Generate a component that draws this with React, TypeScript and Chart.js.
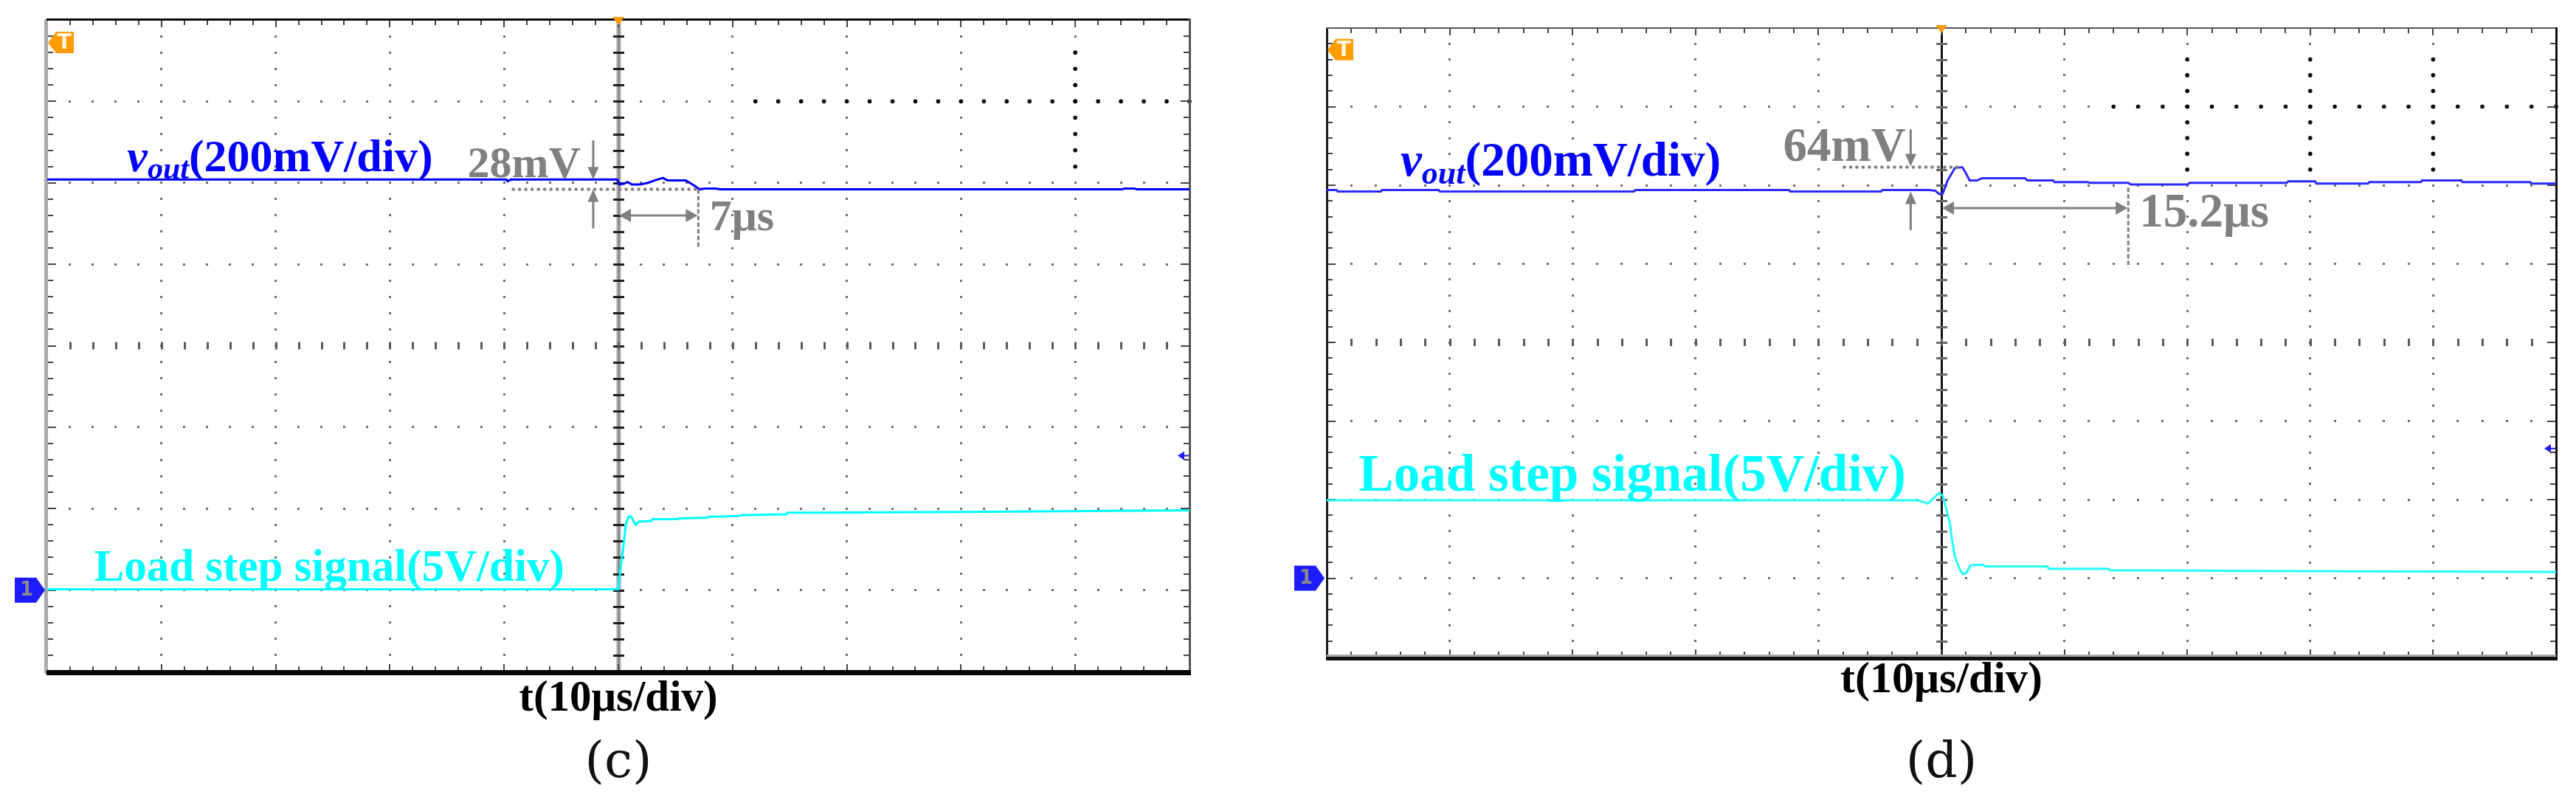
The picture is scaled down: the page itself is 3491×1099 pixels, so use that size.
import React, { useEffect, useRef } from 'react';
import { Chart, registerables } from 'chart.js';

Chart.register(...registerables);

// ---------------- data (time in µs, amplitude in divisions) ----------------
// Panel (c)
const cVoutTime = [-50, -9.8, -9.7, -9.4, -0.1, 0.1, 0.5, 0.8, 1.2, 1.9, 2.6, 3.2, 3.9, 4.3, 5.9, 6.6, 7.1, 7.6, 8.5, 8.9, 44.1, 44.3, 45.2, 45.4, 50];
const cVoutDiv = [2.04, 2.04, 2.02, 2.04, 2.04, 1.98, 1.99, 2.01, 1.98, 1.98, 2.0, 2.03, 2.06, 2.03, 2.03, 1.97, 1.92, 1.93, 1.93, 1.92, 1.92, 1.93, 1.93, 1.92, 1.92];
const cLoadTime = [-50, 0, 0.2, 0.45, 0.65, 0.9, 1.15, 1.5, 1.8, 2.9, 3.0, 5.2, 5.3, 7.8, 7.9, 10.5, 10.8, 14.7, 14.8, 17, 30, 50];
const cLoadDiv = [-2.99, -2.99, -2.73, -2.46, -2.19, -2.1, -2.1, -2.2, -2.16, -2.15, -2.13, -2.13, -2.12, -2.11, -2.1, -2.09, -2.08, -2.07, -2.05, -2.05, -2.04, -2.02];
const cOvershootMv = 28;
const cSettleUs = 7;

// Panel (d)
const dVoutTime = [-50, -49.2, -49.1, -45.6, -45.5, -40.9, -40.8, -25, -24.9, -12.4, -12.3, -4.9, -4.8, -1.0, -0.5, -0.2, 0.1, 0.5, 1.1, 1.7, 2.0, 2.3, 2.9, 3.3, 6.8, 7.0, 9.1, 9.2, 11.9, 12.1, 15.2, 15.4, 20.0, 20.2, 28.1, 28.2, 30.4, 30.5, 34.7, 34.8, 39.0, 39.1, 42.3, 42.4, 47.9, 48.0, 50];
const dVoutDiv = [1.94, 1.94, 1.92, 1.92, 1.94, 1.94, 1.92, 1.92, 1.94, 1.94, 1.92, 1.92, 1.94, 1.94, 1.93, 1.89, 1.89, 2.06, 2.22, 2.23, 2.15, 2.06, 2.06, 2.09, 2.09, 2.06, 2.06, 2.04, 2.04, 2.03, 2.03, 2.01, 2.01, 2.03, 2.03, 2.05, 2.05, 2.02, 2.02, 2.04, 2.04, 2.06, 2.06, 2.04, 2.04, 2.02, 2.02];
const dLoadTime = [-50, -1.9, -1.1, -0.7, -0.2, 0.1, 0.4, 0.7, 0.85, 1.1, 1.3, 1.5, 1.75, 2.05, 2.35, 2.65, 3.4, 3.55, 8.6, 8.75, 13.6, 13.7, 30, 50];
const dLoadDiv = [-2.01, -2.01, -2.05, -1.99, -1.92, -1.95, -2.12, -2.31, -2.5, -2.73, -2.81, -2.89, -2.95, -2.93, -2.84, -2.83, -2.83, -2.85, -2.85, -2.88, -2.88, -2.9, -2.91, -2.92];
const dOvershootMv = 64;
const dSettleUs = 15.2;

// axis divisions
const timeDivTicks = [-50, -40, -30, -20, -10, 0, 10, 20, 30, 40, 50];
const ampDivTicks = [-4, -3, -2, -1, 0, 1, 2, 3, 4];
const xTitleText = 't(10μs/div)';
const voutMain = 'v';
const voutSub = 'out';
const voutScale = '(200mV/div)';
const loadText = 'Load step signal(5V/div)';

const SERIF = '"Liberation Serif", "Times New Roman", serif';
const CAP_FONT = '"DejaVu Serif", "Liberation Serif", serif';
const GRAY = '#808080';

type Panel = {
  key: string;
  caption: string;
  left: number;
  width: number;
  height: number;
  area: { left: number; top: number; right: number; bottom: number };
  xTitleCenter: number;
  xTitleSize: number;
  capCenter: number;
  capSize: number;
  textSize: number;
  voutSize: number;
  loadSize: number;
  voutTime: number[];
  voutDiv: number[];
  loadTime: number[];
  loadDiv: number[];
  voutColor: string;
  loadColor: string;
  overshootMv: number;
  settleUs: number;
  anno: {
    voutLabel: [number, number];
    loadLabel: [number, number];
    mvRight: [number, number];
    arrowT: number;
    downFrom: number; downTo: number;
    upFrom: number; upTo: number;
    hDotY: number; hDotFrom: number; hDotTo: number;
    dblY: number;
    vDotFrom: number; vDotTo: number;
    usLeft: [number, number];
  };
  bold: { cols: number[]; colFrom: number; colTo: number; row: number; rowFrom: number };
  style: 'c' | 'd';
};

const panels: Panel[] = [
  {
    key: 'c', caption: '(c)', left: 0, width: 1700, height: 1099,
    area: { left: 64, top: 27, right: 1612, bottom: 910 },
    xTitleCenter: 948, xTitleSize: 59, capCenter: 1035, capSize: 68,
    textSize: 60, voutSize: 62, loadSize: 61,
    voutTime: cVoutTime, voutDiv: cVoutDiv, loadTime: cLoadTime, loadDiv: cLoadDiv,
    voutColor: '#0000ff', loadColor: '#00ffff',
    overshootMv: cOvershootMv, settleUs: cSettleUs,
    anno: {
      voutLabel: [-43.0, 2.14], loadLabel: [-45.9, -2.89], mvRight: [-3.3, 2.07],
      arrowT: -2.2, downFrom: 2.52, downTo: 2.04, upFrom: 1.44, upTo: 1.92,
      hDotY: 1.92, hDotFrom: -9.2, hDotTo: 7,
      dblY: 1.6, vDotFrom: 1.92, vDotTo: 1.21, usLeft: [8.0, 1.42],
    },
    bold: { cols: [40], colFrom: 2.2, colTo: 3.6, row: 3, rowFrom: 12 },
    style: 'c',
  },
  {
    key: 'd', caption: '(d)', left: 1700, width: 1791, height: 1099,
    area: { left: 98, top: 38, right: 1764, bottom: 890 },
    xTitleCenter: 922, xTitleSize: 60, capCenter: 1035, capSize: 68,
    textSize: 65, voutSize: 65, loadSize: 71,
    voutTime: dVoutTime, voutDiv: dVoutDiv, loadTime: dLoadTime, loadDiv: dLoadDiv,
    voutColor: '#2a2aff', loadColor: '#22ffff',
    overshootMv: dOvershootMv, settleUs: dSettleUs,
    anno: {
      voutLabel: [-44.0, 2.12], loadLabel: [-47.4, -1.89], mvRight: [-2.9, 2.31],
      arrowT: -2.5, downFrom: 2.71, downTo: 2.24, upFrom: 1.43, upTo: 1.92,
      hDotY: 2.23, hDotFrom: -7.9, hDotTo: 1.3,
      dblY: 1.71, vDotFrom: 1.97, vDotTo: 0.95, usLeft: [16.1, 1.47],
    },
    bold: { cols: [20, 30, 40], colFrom: 2.2, colTo: 3.6, row: 3, rowFrom: 14 },
    style: 'd',
  },
];

function arrowHead(ctx: CanvasRenderingContext2D, x: number, y: number, dx: number, dy: number, len: number, half: number) {
  const px = -dy, py = dx;
  ctx.beginPath();
  ctx.moveTo(x, y);
  ctx.lineTo(x - dx * len + px * half, y - dy * len + py * half);
  ctx.lineTo(x - dx * len - px * half, y - dy * len - py * half);
  ctx.closePath();
  ctx.fill();
}

function dottedLine(ctx: CanvasRenderingContext2D, x1: number, y1: number, x2: number, y2: number) {
  ctx.save();
  ctx.strokeStyle = GRAY;
  ctx.lineWidth = 4.5;
  ctx.lineCap = 'round';
  ctx.setLineDash([0.1, 8.4]);
  ctx.beginPath();
  ctx.moveTo(x1, y1);
  ctx.lineTo(x2, y2);
  ctx.stroke();
  ctx.restore();
}

function makeChart(canvas: HTMLCanvasElement, p: Panel) {
  const a = p.area;
  const xPadTop = p.xTitleCenter - a.bottom - p.xTitleSize / 2;
  const capTopEdge = a.bottom + xPadTop + p.xTitleSize;
  const capPadTop = p.capCenter - capTopEdge - p.capSize / 2;
  const layoutBottom = p.height - (p.capCenter + p.capSize / 2);

  const gridPlugin = {
    id: 'scopeGrid' + p.key,
    beforeDatasetsDraw(chart: any) {
      const { ctx, chartArea: ca, scales } = chart;
      const X = (t: number) => scales.x.getPixelForValue(t);
      const Y = (v: number) => scales.y.getPixelForValue(v);
      ctx.save();
      const dot = (x: number, y: number, s: number, c: string) => {
        ctx.fillStyle = c;
        ctx.fillRect(Math.round(x - s / 2), Math.round(y - s / 2), s, s);
      };
      const dotCol = '#6e6e6e';
      // dots at minor ticks along major lines
      for (const t of timeDivTicks) {
        if (t === -50 || t === 50 || t === 0) continue;
        for (let k = -19; k <= 19; k++) dot(X(t), Y(k * 0.2), 3, dotCol);
      }
      for (const v of ampDivTicks) {
        if (v === -4 || v === 4 || v === 0) continue;
        for (let k = -24; k <= 24; k++) dot(X(k * 2), Y(v), 3, dotCol);
      }
      // centre cross
      if (p.style === 'c') {
        ctx.fillStyle = '#c4c4c4';
        ctx.fillRect(X(0) - 3, ca.top, 7, ca.bottom - ca.top);
        ctx.fillStyle = '#8a8a8a';
        ctx.fillRect(X(0) - 1, ca.top, 3, ca.bottom - ca.top);
      } else {
        ctx.fillStyle = '#111';
        ctx.fillRect(X(0) - 1, ca.top, 3, ca.bottom - ca.top);
      }
      for (let k = -19; k <= 19; k++) {
        ctx.fillStyle = p.style === 'c' ? '#1e1e1e' : '#6a6a6a';
        ctx.fillRect(X(0) - 7, Math.round(Y(k * 0.2)) - 1, 15, 3);
      }
      for (let k = -24; k <= 24; k++) {
        ctx.fillStyle = '#5a5a5a';
        ctx.fillRect(Math.round(X(k * 2)) - 1, Y(0) - 5, 3, 10);
      }
      // bold overlay dots
      for (const t of p.bold.cols) {
        for (let v = p.bold.colFrom; v <= p.bold.colTo + 1e-6; v += 0.2) {
          ctx.fillStyle = '#000';
          ctx.beginPath();
          ctx.arc(X(t), Y(v), 2.8, 0, Math.PI * 2);
          ctx.fill();
        }
      }
      for (let t = 50; t >= p.bold.rowFrom - 1e-6; t -= 2) {
        ctx.fillStyle = '#000';
        ctx.beginPath();
        ctx.arc(X(t), Y(p.bold.row), 2.8, 0, Math.PI * 2);
        ctx.fill();
      }
      // border ticks
      ctx.fillStyle = '#444';
      for (let k = -19; k <= 19; k++) {
        const y = Math.round(Y(k * 0.2));
        const len = k % 5 === 0 ? 12 : 8;
        ctx.fillRect(ca.left, y - 1, len, 2);
        ctx.fillRect(ca.right - len, y - 1, len, 2);
      }
      for (let k = -24; k <= 24; k++) {
        const x = Math.round(X(k * 2));
        const len = k % 5 === 0 ? 10 : 7;
        ctx.fillRect(x - 1, ca.top, 2, len);
        ctx.fillRect(x - 1, ca.bottom - len, 2, len);
      }
      // frame
      if (p.style === 'c') {
        ctx.fillStyle = '#aaaaaa';
        ctx.fillRect(ca.left - 4, ca.top - 1, 5, ca.bottom - ca.top + 4);
        ctx.fillStyle = '#0a0a0a';
        ctx.fillRect(ca.left - 1, ca.top - 2, ca.right - ca.left + 2, 3);
        ctx.fillStyle = '#555';
        ctx.fillRect(ca.right - 1, ca.top - 2, 3, ca.bottom - ca.top + 4);
        ctx.fillStyle = '#050505';
        ctx.fillRect(ca.left - 1, ca.bottom - 2, ca.right - ca.left + 3, 7);
      } else {
        ctx.fillStyle = '#1a1a1a';
        ctx.fillRect(ca.left - 1, ca.top - 1, 3, ca.bottom - ca.top + 3);
        ctx.fillStyle = '#555';
        ctx.fillRect(ca.left - 1, ca.top - 1, ca.right - ca.left + 2, 2);
        ctx.fillStyle = '#111';
        ctx.fillRect(ca.right - 1, ca.top - 1, 3, ca.bottom - ca.top + 6);
        ctx.fillStyle = '#a8a8a8';
        ctx.fillRect(ca.left, ca.bottom - 3, ca.right - ca.left, 3);
        ctx.fillStyle = '#111';
        ctx.fillRect(ca.left - 1, ca.bottom, ca.right - ca.left + 3, 5);
      }
      ctx.restore();
    },
  };

  const annoPlugin = {
    id: 'scopeAnno' + p.key,
    afterDatasetsDraw(chart: any) {
      const { ctx, chartArea: ca, scales } = chart;
      const X = (t: number) => scales.x.getPixelForValue(t);
      const Y = (v: number) => scales.y.getPixelForValue(v);
      const an = p.anno;
      const fs = p.textSize;
      const vs = p.voutSize;
      ctx.save();
      ctx.textBaseline = 'alphabetic';

      // v_out label
      let x = X(an.voutLabel[0]);
      const yb = Y(an.voutLabel[1]);
      ctx.fillStyle = '#0000ff';
      ctx.font = `italic bold ${vs}px ${SERIF}`;
      ctx.textAlign = 'left';
      ctx.fillText(voutMain, x, yb);
      x += ctx.measureText(voutMain).width;
      ctx.font = `italic bold ${Math.round(vs * 0.68)}px ${SERIF}`;
      ctx.fillText(voutSub, x, yb + vs * 0.16);
      x += ctx.measureText(voutSub).width;
      ctx.font = `bold ${vs}px ${SERIF}`;
      ctx.fillText(voutScale, x, yb);

      // load label
      ctx.fillStyle = '#00ffff';
      ctx.font = `bold ${p.loadSize}px ${SERIF}`;
      ctx.fillText(loadText, X(an.loadLabel[0]), Y(an.loadLabel[1]));

      // overshoot annotation
      ctx.fillStyle = GRAY;
      ctx.strokeStyle = GRAY;
      ctx.font = `bold ${fs}px ${SERIF}`;
      ctx.textAlign = 'right';
      ctx.fillText(`${p.overshootMv}mV`, X(an.mvRight[0]), Y(an.mvRight[1]));
      const ax = X(an.arrowT);
      ctx.lineWidth = 3;
      ctx.beginPath();
      ctx.moveTo(ax, Y(an.downFrom));
      ctx.lineTo(ax, Y(an.downTo) - 14);
      ctx.moveTo(ax, Y(an.upFrom));
      ctx.lineTo(ax, Y(an.upTo) + 14);
      ctx.stroke();
      arrowHead(ctx, ax, Y(an.downTo), 0, 1, 17, 7.5);
      arrowHead(ctx, ax, Y(an.upTo), 0, -1, 17, 7.5);
      dottedLine(ctx, X(an.hDotFrom), Y(an.hDotY), X(an.hDotTo), Y(an.hDotY));

      // settling time
      const x0 = X(0), x1 = X(p.settleUs), yd = Y(an.dblY);
      ctx.beginPath();
      ctx.moveTo(x0 + 14, yd);
      ctx.lineTo(x1 - 14, yd);
      ctx.stroke();
      arrowHead(ctx, x0 + 1, yd, -1, 0, 16, 9);
      arrowHead(ctx, x1 - 1, yd, 1, 0, 16, 9);
      ctx.save();
      ctx.strokeStyle = GRAY;
      ctx.lineWidth = 3;
      ctx.setLineDash([6, 3]);
      ctx.beginPath();
      ctx.moveTo(x1, Y(an.vDotFrom));
      ctx.lineTo(x1, Y(an.vDotTo));
      ctx.stroke();
      ctx.restore();
      ctx.textAlign = 'left';
      ctx.fillText(`${p.settleUs}μs`, X(an.usLeft[0]), Y(an.usLeft[1]));

      // trigger "T" marker
      const ty = Y(3.72);
      ctx.fillStyle = '#ff9c00';
      ctx.beginPath();
      ctx.moveTo(ca.left + 1, ty);
      ctx.lineTo(ca.left + 12, ty - 15);
      ctx.lineTo(ca.left + 36, ty - 15);
      ctx.lineTo(ca.left + 36, ty + 14);
      ctx.lineTo(ca.left + 12, ty + 14);
      ctx.closePath();
      ctx.fill();
      ctx.fillStyle = '#fff4e0';
      ctx.font = `bold 28px "DejaVu Sans", sans-serif`;
      ctx.textAlign = 'center';
      ctx.textBaseline = 'middle';
      ctx.fillText('T', ca.left + 23, ty + 1);

      // trigger position marker (top centre)
      ctx.fillStyle = '#ff9c00';
      ctx.beginPath();
      ctx.moveTo(x0 - 8, ca.top - 4);
      ctx.lineTo(x0 + 8, ca.top - 4);
      ctx.lineTo(x0, ca.top + 7);
      ctx.closePath();
      ctx.fill();

      // channel 1 ground marker
      const gy = Y(-3);
      ctx.fillStyle = '#1c1cff';
      ctx.beginPath();
      ctx.moveTo(ca.left - 44, gy - 17);
      ctx.lineTo(ca.left - 15, gy - 17);
      ctx.lineTo(ca.left - 3, gy);
      ctx.lineTo(ca.left - 15, gy + 17);
      ctx.lineTo(ca.left - 44, gy + 17);
      ctx.closePath();
      ctx.fill();
      ctx.fillStyle = '#8a8a8a';
      ctx.font = `bold 26px "DejaVu Sans", sans-serif`;
      ctx.fillText('1', ca.left - 28, gy + 1);

      // small blue marker on right edge
      const ry = Y(-1.35);
      ctx.fillStyle = '#2020ff';
      ctx.beginPath();
      ctx.moveTo(ca.right - 16, ry);
      ctx.lineTo(ca.right - 7, ry - 6);
      ctx.lineTo(ca.right - 7, ry + 6);
      ctx.closePath();
      ctx.fill();
      ctx.fillRect(ca.right - 9, ry - 1, 8, 2);
      ctx.restore();
    },
  };

  return new Chart(canvas, {
    type: 'line',
    data: {
      datasets: [
        {
          label: 'vout',
          data: p.voutTime.map((t, i) => ({ x: t, y: p.voutDiv[i] })),
          borderColor: p.voutColor,
          borderWidth: 3,
          pointRadius: 0,
          tension: 0,
        },
        {
          label: 'load',
          data: p.loadTime.map((t, i) => ({ x: t, y: p.loadDiv[i] })),
          borderColor: p.loadColor,
          borderWidth: 3,
          pointRadius: 0,
          tension: 0,
        },
      ],
    },
    options: {
      animation: false,
      responsive: false,
      devicePixelRatio: 1,
      layout: {
        padding: { left: a.left, top: a.top, right: p.width - a.right, bottom: layoutBottom },
      },
      plugins: {
        legend: { display: false },
        tooltip: { enabled: false },
        title: {
          display: true,
          position: 'bottom',
          text: p.caption,
          color: '#111',
          font: { family: CAP_FONT, size: p.capSize, weight: 'normal', lineHeight: 1 },
          padding: { top: capPadTop, bottom: 0 },
        },
      },
      scales: {
        x: {
          type: 'linear',
          min: -50,
          max: 50,
          grid: { display: false, drawTicks: false },
          border: { display: false },
          ticks: { display: false },
          title: {
            display: true,
            text: xTitleText,
            color: '#000',
            font: { family: SERIF, size: p.xTitleSize, weight: 'bold', lineHeight: 1 },
            padding: { top: xPadTop, bottom: 0 },
          },
        },
        y: { type: 'linear', min: -4, max: 4, display: false },
      },
    },
    plugins: [gridPlugin, annoPlugin],
  } as any);
}

function ScopePanel({ p }: { p: Panel }) {
  const ref = useRef<HTMLCanvasElement>(null);
  useEffect(() => {
    const chart = makeChart(ref.current as HTMLCanvasElement, p);
    return () => chart.destroy();
  }, [p]);
  return (
    <canvas
      ref={ref}
      width={p.width}
      height={p.height}
      style={{ position: 'absolute', left: p.left, top: 0, width: p.width, height: p.height }}
    />
  );
}

export default function App() {
  return (
    <div style={{ position: 'absolute', left: 0, top: 0, width: 3491, height: 1099, background: '#fff' }}>
      {panels.map((p) => (
        <ScopePanel key={p.key} p={p} />
      ))}
    </div>
  );
}
